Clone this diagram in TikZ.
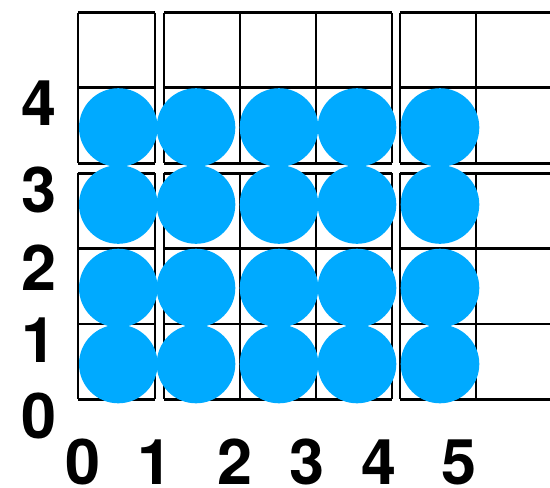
\documentclass[tikz,border=0pt]{standalone}
\usepackage{fontspec}
\setmainfont{TeX Gyre Heros}
\definecolor{dotblue}{HTML}{00AAFF}
\begin{document}
\begin{tikzpicture}[x=1pt,y=-1pt,
  gridline/.style={line width=2.6pt,black},
  dot/.style={fill=dotblue},
  lab/.style={font=\fontsize{63}{63}\selectfont\bfseries,inner sep=0pt,anchor=center}]
\useasboundingbox (0,0) rectangle (550,488);
% vertical lines
\foreach \x in {78,155,164,240,316,392,400,476}{
  \draw[gridline] (\x,12.7) -- (\x,163.3);
  \draw[gridline] (\x,173.3) -- (\x,399.3);
}
% horizontal lines
\foreach \y in {12.7,87.7,163.3,173.3,248.3,324,399.3}{
  \draw[gridline] (78,\y) -- (155,\y);
  \draw[gridline] (164,\y) -- (392,\y);
  \draw[gridline] (400,\y) -- (551,\y);
}
% circles
\foreach \y in {127.5,204.5,288,364}{
  \foreach \x in {118.3,196,279,357,440}{
    \fill[dot] (\x,\y) circle (39.3);
  }
}
% y labels
\node[lab] (y4) at (39,103) {4};
\node[lab] (y3) at (39,190) {3};
\node[lab] (y2) at (39,268) {2};
\node[lab] (y1) at (39,340) {1};
\node[lab] (y0) at (39,416) {0};
% x labels
\node[lab] (x0) at (83,462) {0};
\node[lab] (x1) at (155,462) {1};
\node[lab] (x2) at (235,462) {2};
\node[lab] (x3) at (307,462) {3};
\node[lab] (x4) at (379,462) {4};
\node[lab] (x5) at (459,462) {5};
\end{tikzpicture}
\end{document}
